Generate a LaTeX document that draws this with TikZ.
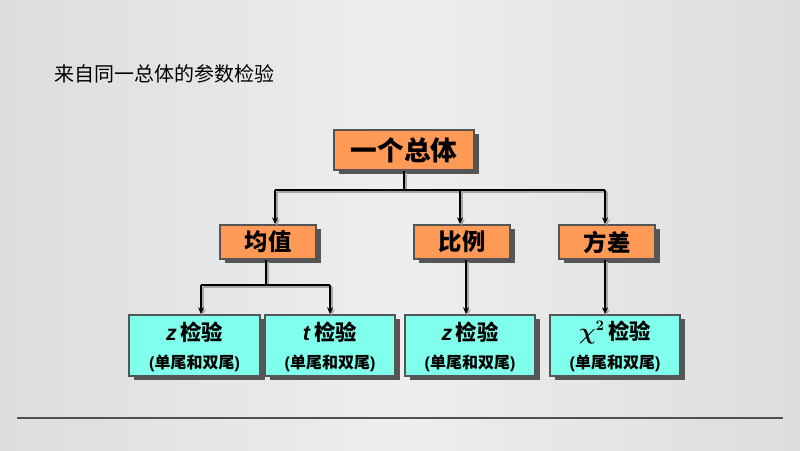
\documentclass[tikz,border=0pt]{standalone}
\usepackage{fontspec}
\setmainfont{Liberation Sans}
\newfontfamily\cjk{Noto Sans CJK SC}
\usetikzlibrary{arrows.meta,shadows}
\definecolor{bgC}{HTML}{EDEEED}
\definecolor{bgE}{HTML}{DCDDDF}
\definecolor{orangebox}{HTML}{FF9A56}
\definecolor{cyanbox}{HTML}{80FFEC}
\definecolor{edgegray}{HTML}{555555}
\definecolor{rulegray}{HTML}{505050}
\tikzset{
  box/.style={draw=edgegray, line width=1.5pt, inner sep=0pt,
    drop shadow={shadow xshift=3.75pt, shadow yshift=-3pt, fill=edgegray, opacity=1}},
  obox/.style={box, fill=orangebox},
  cbox/.style={box, fill=cyanbox, minimum width=97.5pt, minimum height=45.75pt},
  conn/.style={line width=1.5pt, black,
    preaction={draw=gray!70, line width=1.5pt, transform canvas={shift={(1.3pt,-1.3pt)}}}},
  arr/.style={conn, -{Stealth[length=5pt,width=4.5pt]}},
  big/.style={font=\cjk\bfseries\fontsize{20}{22}\selectfont},
  mid/.style={font=\cjk\bfseries\fontsize{17.5}{20}\selectfont},
  lineA/.style={font=\bfseries\fontsize{16}{18}\selectfont, inner sep=0pt},
  lineB/.style={font=\bfseries\fontsize{12}{14}\selectfont, inner sep=0pt},
}
\newcommand{\twotail}{(\cjk 单尾和双尾\normalfont\bfseries)}
\begin{document}
\begin{tikzpicture}[x=0.75pt,y=-0.75pt]
\shade[left color=bgE, right color=bgE, middle color=bgC] (0,0) rectangle (800,450);
\useasboundingbox (0,0) rectangle (800,450);
\node[anchor=west, font=\cjk\fontsize{15}{18}\selectfont, inner sep=0pt] (title) at (54,74) {来自同一总体的参数检验};
\draw[rulegray, line width=1.2pt] (17,418) coordinate (r1) -- (783,418) coordinate (r2);

% coordinates of branch points
\coordinate (b1) at (275,190);
\coordinate (b2) at (460,190);
\coordinate (b3) at (605,190);
\coordinate (c1) at (201,285);
\coordinate (c2) at (330,285);
\coordinate (m1) at (266,285);

% nodes
\node[obox, big, minimum width=105pt, minimum height=30pt] (top) at (404,150) {一个总体};
\node[obox, mid, minimum width=72pt, minimum height=25.5pt] (jz) at (268,242) {均值};
\node[obox, mid, minimum width=72pt, minimum height=25.5pt] (bl) at (462,242) {比例};
\node[obox, mid, minimum width=72pt, minimum height=25.5pt] (fc) at (607,242) {方差};

\node[cbox, minimum width=98.25pt] (zb) at (194.5,345.5) {};
\node[cbox] (tb) at (330,345.5) {};
\node[cbox] (zb2) at (470,345.5) {};
\node[cbox] (xb) at (615,345.5) {};

\foreach \b/\t in {zb/{\textit{z}\,\cjk\bfseries 检验}, tb/{\textit{t}\,\cjk\bfseries 检验}, zb2/{\textit{z}\,\cjk\bfseries 检验}, xb/{{\boldmath$\chi^{2}$}\,\cjk\bfseries 检验}}{
  \node[lineA] (\b-a) at ([yshift=10.1pt]\b.center) {\t};
  \node[lineB] (\b-b) at ([yshift=-13.1pt]\b.center) {\twotail};
}

% connectors
\draw[conn] (top.south) -- (top.south |- b1);
\draw[conn] (b1) -- (b3);
\draw[arr] (b1) -- (b1 |- jz.north);
\draw[arr] (b2) -- (b2 |- bl.north);
\draw[arr] (b3) -- (b3 |- fc.north);
\draw[conn] (m1 |- jz.south) -- (m1);
\draw[conn] (c1) -- (c2);
\draw[arr] (c1) -- (c1 |- zb.north);
\draw[arr] (c2) -- (c2 |- tb.north);
\draw[arr] (466,259 |- bl.south) coordinate (p1) -- (p1 |- zb2.north);
\draw[arr] (b3 |- fc.south) -- (b3 |- xb.north);
\end{tikzpicture}
\end{document}
